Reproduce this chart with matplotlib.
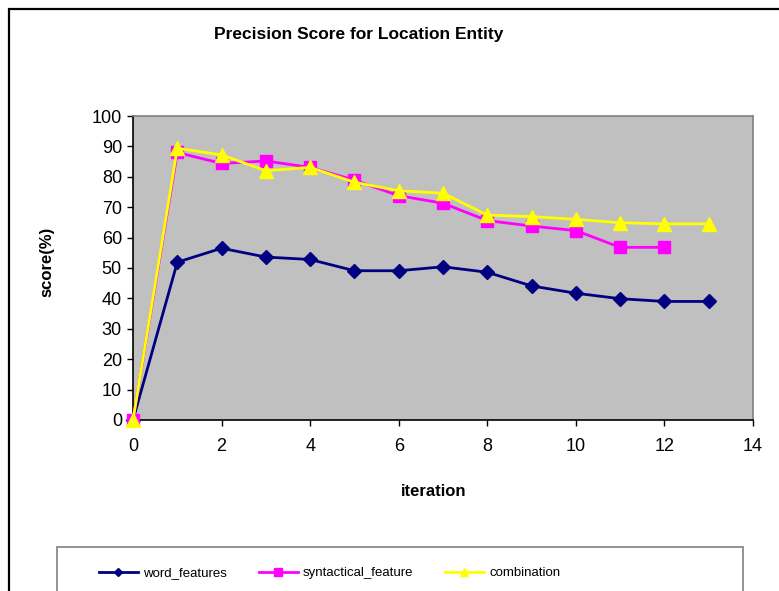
import matplotlib
matplotlib.use("Agg")
import matplotlib.pyplot as plt
from matplotlib.patches import Rectangle

plt.rcParams['font.family'] = ['Liberation Sans', 'DejaVu Sans']

iterations_word = [0, 1, 2, 3, 4, 5, 6, 7, 8, 9, 10, 11, 12, 13]
word_features = [0, 51.9, 56.5, 53.6, 52.8, 49.1, 49.1, 50.4, 48.6, 44.1, 41.7, 39.9, 39.0, 39.0]

iterations_syn = [0, 1, 2, 3, 4, 5, 6, 7, 8, 9, 10, 11, 12]
syntactical_feature = [0, 88.0, 84.4, 85.2, 83.1, 78.9, 73.8, 71.3, 65.6, 63.8, 62.3, 56.8, 56.8]

iterations_comb = [0, 1, 2, 3, 4, 5, 6, 7, 8, 9, 10, 11, 12, 13]
combination = [0, 89.4, 87.2, 82.0, 83.1, 78.2, 75.4, 74.6, 67.4, 66.9, 66.0, 64.9, 64.5, 64.5]

x_ticks = [0, 2, 4, 6, 8, 10, 12, 14]
y_ticks = [0, 10, 20, 30, 40, 50, 60, 70, 80, 90, 100]

W, H = 779, 591
fig = plt.figure(figsize=(W / 100, H / 100), dpi=100)
fig.patch.set_facecolor('white')

# outer chart frame
fig.add_artist(Rectangle((9 / W, -0.05), 1.1, 1 - 9 / H + 0.05, transform=fig.transFigure,
                         fill=False, edgecolor='black', linewidth=1.6))

ax = fig.add_axes([133 / W, 1 - 420 / H, (753 - 133) / W, (420 - 116) / H])
ax.set_facecolor('#C0C0C0')

l1, = ax.plot(iterations_word, word_features, color='#000080', marker='D', markersize=7,
              linewidth=2.0, clip_on=False, zorder=3)
l2, = ax.plot(iterations_syn, syntactical_feature, color='#FF00FF', marker='s', markersize=8.5,
              linewidth=2.0, clip_on=False, zorder=4)
l3, = ax.plot(iterations_comb, combination, color='#FFFF00', marker='^', markersize=9.5,
              linewidth=2.0, clip_on=False, zorder=5)

ax.set_xlim(0, 14)
ax.set_ylim(0, 100)
ax.set_xticks(x_ticks)
ax.set_yticks(y_ticks)
ax.tick_params(axis='both', direction='out', length=4, width=1, labelsize=13, colors='black')
ax.tick_params(axis='x', pad=9)
ax.tick_params(axis='y', pad=4)
for s in ['left', 'bottom']:
    ax.spines[s].set_color('black')
    ax.spines[s].set_linewidth(1.2)
for s in ['top', 'right']:
    ax.spines[s].set_color('#808080')
    ax.spines[s].set_linewidth(1.2)

fig.text(47 / W, 1 - 262 / H, 'score(%)', rotation=90, ha='center', va='center',
         fontsize=12, fontweight='bold')
fig.text(434 / W, 1 - 492 / H, 'iteration', ha='center', va='center',
         fontsize=12, fontweight='bold')
fig.text(359 / W, 1 - 35 / H, 'Precision Score for Location Entity', ha='center', va='center',
         fontsize=12.5, fontweight='bold')

# legend box
fig.add_artist(Rectangle((57 / W, -0.05), (743 - 57) / W, 1 - 547 / H + 0.05,
                         transform=fig.transFigure, fill=True, facecolor='white',
                         edgecolor='#808080', linewidth=1.2))
leg = fig.legend([l1, l2, l3], ['word_features', 'syntactical_feature', 'combination'],
                 loc='center left', bbox_to_anchor=(87 / W, 1 - 573 / H), ncol=3,
                 frameon=False, fontsize=9.5, handlelength=2.95, columnspacing=2.4,
                 handletextpad=0.4, markerscale=0.6)
plt.savefig('out.png', dpi=100)
